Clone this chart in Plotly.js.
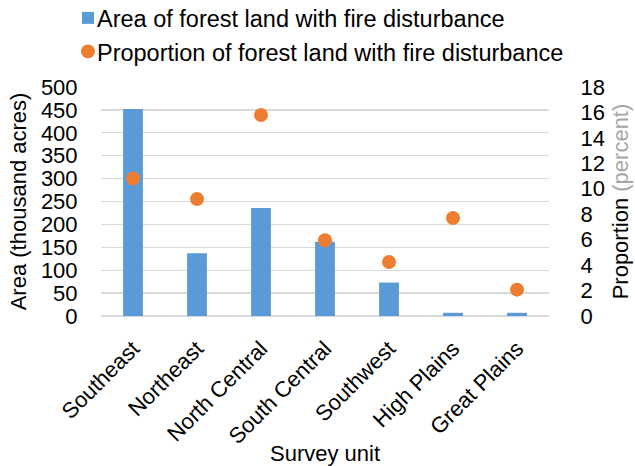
<!DOCTYPE html>
<html>
<head>
<meta charset="utf-8">
<script src="https://cdn.plot.ly/plotly-3.0.1.min.js"></script>
<style>
  html, body { margin: 0; padding: 0; background: #ffffff; }
  #chart { width: 635px; height: 466px; }
</style>
</head>
<body>
<div id="chart"></div>
<script>
// Forest land with fire disturbance by survey unit
const surveyUnits = ['Southeast', 'Northeast', 'North Central', 'South Central', 'Southwest', 'High Plains', 'Great Plains'];
const areaThousandAcres = [452, 137, 236, 162, 73, 7, 7];
const proportionPercent = [10.8, 9.2, 15.8, 5.95, 4.25, 7.7, 2.07];

const FONT = '"Liberation Sans", Arial, sans-serif';
const FS = 22;

const traces = [
  {
    type: 'bar',
    name: 'Area of forest land with fire disturbance',
    x: surveyUnits,
    y: areaThousandAcres,
    marker: { color: '#5b9bd5' },
    yaxis: 'y'
  },
  {
    type: 'scatter',
    mode: 'markers',
    name: 'Proportion of forest land with fire disturbance',
    x: surveyUnits,
    y: proportionPercent,
    marker: { color: '#ed7d31', size: 14 },
    yaxis: 'y2'
  }
];

const layout = {
  width: 635,
  height: 466,
  margin: { l: 101, r: 86, t: 87, b: 150, autoexpand: false },
  paper_bgcolor: '#ffffff',
  plot_bgcolor: '#ffffff',
  font: { family: FONT, size: FS, color: '#000000' },
  bargap: 0.69,
  showlegend: true,
  legend: {
    orientation: 'v',
    x: -0.0737, xanchor: 'left',
    y: 1.397, yanchor: 'top',
    font: { family: FONT, size: 23.5, color: '#000000' },
    itemwidth: 30,
    tracegroupgap: 0,
    bgcolor: 'rgba(0,0,0,0)'
  },
  xaxis: {
    type: 'category',
    tickangle: -45,
    tickfont: { family: FONT, size: FS },
    showgrid: false,
    showline: false,
    ticks: 'outside',
    ticklen: 10,
    tickcolor: 'rgba(0,0,0,0)',
    title: { text: 'Survey unit', font: { family: FONT, size: FS }, standoff: 2 }
  },
  yaxis: {
    range: [0, 500],
    dtick: 50,
    showgrid: true,
    gridcolor: '#d9d9d9',
    gridwidth: 1.3,
    zeroline: true,
    zerolinecolor: '#d9d9d9',
    zerolinewidth: 1.3,
    showline: false,
    ticks: 'outside',
    ticklen: 18,
    tickcolor: 'rgba(0,0,0,0)',
    tickfont: { family: FONT, size: FS },
    title: { text: 'Area (thousand acres)', font: { family: FONT, size: FS }, standoff: 8 }
  },
  yaxis2: {
    overlaying: 'y',
    side: 'right',
    range: [0, 18],
    dtick: 2,
    showgrid: false,
    zeroline: false,
    showline: false,
    ticks: 'outside',
    ticklen: 26,
    tickcolor: 'rgba(0,0,0,0)',
    tickfont: { family: FONT, size: FS },
    title: {
      text: 'Proportion <span style="fill:#a6a6a6">(percent)</span>',
      font: { family: FONT, size: FS },
      standoff: 8
    }
  }
};

Plotly.newPlot('chart', traces, layout, { displayModeBar: false, staticPlot: true }).then(gd => {
  // tighten the gap between legend symbols and their labels
  gd.querySelectorAll('.legend .legendtext').forEach(t => {
    t.setAttribute('x', 29);
  });
});
</script>
</body>
</html>
